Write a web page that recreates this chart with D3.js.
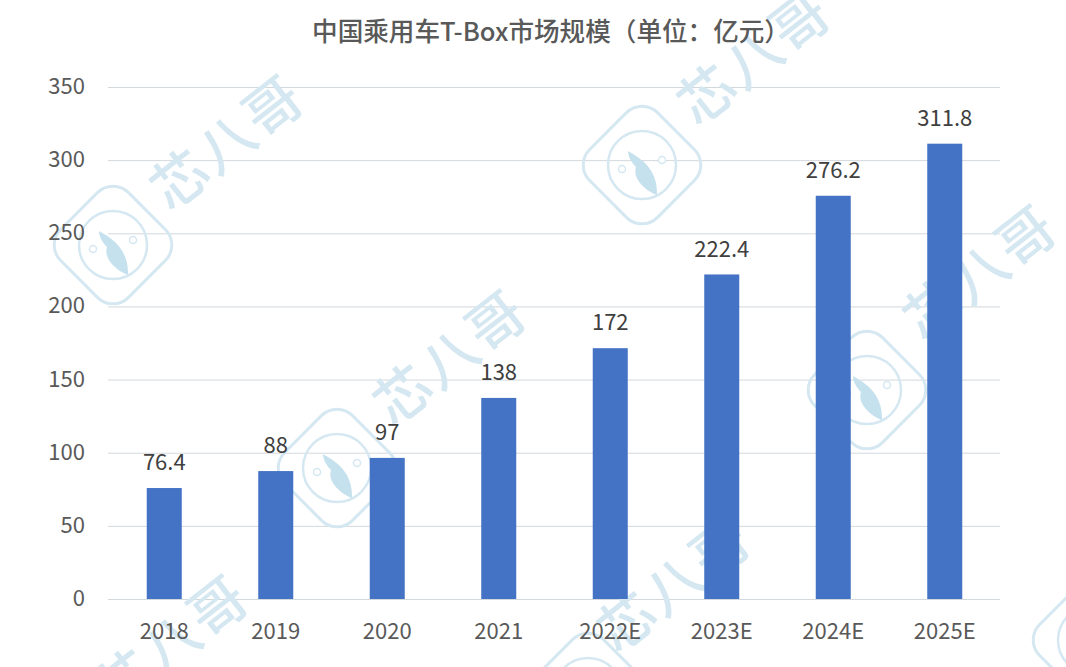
<!DOCTYPE html>
<html>
<head>
<meta charset="utf-8">
<script src="https://cdn.jsdelivr.net/npm/d3@7"></script>
<style>
  html, body { margin: 0; padding: 0; background: #fff; }
  text { font-family: "Noto Sans CJK SC", "Noto Sans", sans-serif; }
</style>
</head>
<body>
<svg id="chart" width="1066" height="667" style="display:block"></svg>
<script>
// Values
var years = ["2018", "2019", "2020", "2021", "2022E", "2023E", "2024E", "2025E"];
var sizes = [76.4, 88, 97, 138, 172, 222.4, 276.2, 311.8];
var sizeLabels = ["76.4", "88", "97", "138", "172", "222.4", "276.2", "311.8"];
var yTicks = [0, 50, 100, 150, 200, 250, 300, 350];

// Watermark stamps: logo centres and text centres
var logoSpots = [[113, 245], [642, 165], [867, 390], [337, 468], [588, 692], [1092, 640]];
var markSpots = [[228, 143], [755, 58], [981, 273], [451, 358], [675, 585], [173, 643]];

var svg = d3.select("#chart");

var x = d3.scaleBand().domain(years).range([108.5, 1000.5]).paddingInner(0.686).paddingOuter(0.343);
var y = d3.scaleLinear().domain([0, 350]).range([599, 87]);

// Grid lines
svg.append("g").selectAll("line").data(yTicks).join("line")
  .attr("x1", 108).attr("x2", 1000)
  .attr("y1", d => y(d) + 0.5).attr("y2", d => y(d) + 0.5)
  .attr("stroke", "#d3d8dd").attr("stroke-width", 1);

// Watermark under the bars
var wm = "#d5e8f2";
var logos = svg.append("g").selectAll("g").data(logoSpots).join("g")
  .attr("transform", d => `translate(${d[0]},${d[1]})`);
logos.append("rect")
  .attr("x", -48).attr("y", -48).attr("width", 96).attr("height", 96).attr("rx", 22)
  .attr("transform", "rotate(45)")
  .attr("fill", "none").attr("stroke", wm).attr("stroke-width", 3);
logos.append("circle").attr("r", 34)
  .attr("fill", "none").attr("stroke", wm).attr("stroke-width", 2.5);
logos.append("path")
  .attr("d", "M-14,-14 C-4,-8 16,2 15,30 C4,26 -10,14 -6,2 C-10,-2 -14,-8 -14,-14 Z")
  .attr("fill", "#c6e1ee");
logos.selectAll("circle.node").data([[-20, 4], [20, -5]]).join("circle")
  .attr("class", "node")
  .attr("cx", d => d[0]).attr("cy", d => d[1]).attr("r", 3.5)
  .attr("fill", "#fff").attr("stroke", wm).attr("stroke-width", 1.5);
svg.append("g").selectAll("text").data(markSpots).join("text")
  .attr("transform", d => `translate(${d[0]},${d[1]}) rotate(-38)`)
  .attr("text-anchor", "middle").attr("dy", "0.35em")
  .attr("font-size", 56).attr("letter-spacing", 3).attr("font-weight", 500)
  .attr("fill", wm)
  .text("芯八哥");

// Bars
svg.append("g").selectAll("rect").data(years).join("rect")
  .attr("x", d => x(d))
  .attr("width", x.bandwidth())
  .attr("y", (d, i) => y(sizes[i]) + 0.8)
  .attr("height", (d, i) => y(0) - y(sizes[i]) - 0.8)
  .attr("fill", "#4472c4");

// Value labels
svg.append("g").selectAll("text").data(years).join("text")
  .attr("x", d => x(d) + x.bandwidth() / 2)
  .attr("y", (d, i) => y(sizes[i]) - 17)
  .attr("text-anchor", "middle")
  .attr("font-size", 22).attr("fill", "#404040")
  .text((d, i) => sizeLabels[i]);

// Y axis labels
svg.append("g").selectAll("text").data(yTicks).join("text")
  .attr("x", 85).attr("y", d => y(d) + 7)
  .attr("text-anchor", "end")
  .attr("font-size", 22).attr("fill", "#595959")
  .text(d => d);

// X axis labels
svg.append("g").selectAll("text").data(years).join("text")
  .attr("x", d => x(d) + x.bandwidth() / 2)
  .attr("y", 639)
  .attr("text-anchor", "middle")
  .attr("font-size", 22).attr("fill", "#595959")
  .text(d => d);

// Title
svg.append("text")
  .attr("x", 551).attr("y", 41)
  .attr("text-anchor", "middle")
  .attr("font-size", 25.6).attr("font-weight", 500).attr("fill", "#595959")
  .text("中国乘用车T-Box市场规模（单位：亿元）");
</script>
</body>
</html>
